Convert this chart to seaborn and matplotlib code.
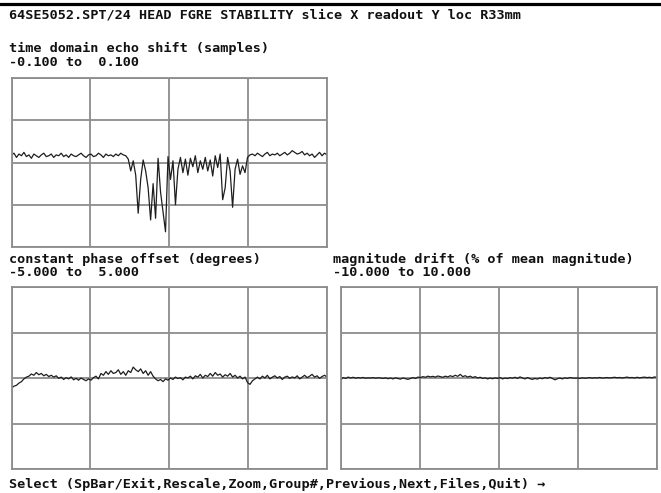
import numpy as np
import pandas as pd
import matplotlib
matplotlib.use("Agg")
import matplotlib.pyplot as plt
from matplotlib.lines import Line2D
import seaborn as sns

# ---------------- data ----------------
title = "64SE5052.SPT/24 HEAD FGRE STABILITY slice X readout Y loc R33mm"
label_echo = "time domain echo shift (samples)"
range_echo = "-0.100 to  0.100"
label_phase = "constant phase offset (degrees)"
range_phase = "-5.000 to  5.000"
label_mag = "magnitude drift (% of mean magnitude)"
range_mag = "-10.000 to 10.000"
footer = "Select (SpBar/Exit,Rescale,Zoom,Group#,Previous,Next,Files,Quit) \u2192"

echo_lim = (-0.1, 0.1)
phase_lim = (-5.0, 5.0)
mag_lim = (-10.0, 10.0)

echo_shift = [
    0.009, 0.011, 0.006, 0.010, 0.008, 0.012, 0.007, 0.009, 0.005, 0.010,
    0.008, 0.006, 0.009, 0.011, 0.007, 0.008, 0.010, 0.006, 0.009, 0.008,
    0.011, 0.007, 0.009, 0.006, 0.010, 0.008, 0.007, 0.009, 0.011, 0.008,
    0.006, 0.009, 0.010, 0.007, 0.008, 0.011, 0.009, 0.006, 0.010, 0.008,
    0.009, 0.007, 0.010, 0.008, 0.011, 0.009, 0.008, 0.004,
    -0.010, 0.002, -0.015, -0.060, -0.020, 0.003, -0.010, -0.030, -0.068, -0.025,
    -0.066, 0.005, -0.035, -0.058, -0.082, 0.007, -0.020, 0.002, -0.050, -0.008,
    0.006, -0.012, 0.004, -0.015, 0.005, -0.005, 0.008, -0.012, 0.002, -0.008,
    0.006, -0.010, 0.003, -0.016, 0.008, -0.006, 0.010, -0.044, -0.030, 0.006,
    -0.010, -0.053, -0.008, 0.004, -0.014, -0.004, -0.012, 0.006,
    0.009, 0.010, 0.008, 0.011, 0.009, 0.007, 0.010, 0.012, 0.008, 0.010,
    0.009, 0.011, 0.008, 0.010, 0.012, 0.009, 0.011, 0.014, 0.012, 0.010,
    0.011, 0.013, 0.009, 0.011, 0.008, 0.010, 0.006, 0.009, 0.012, 0.008,
    0.011, 0.009,
]

phase_offset = [
    -0.55, -0.45, -0.40, -0.28, -0.20, -0.05, 0.05, 0.10, 0.22, 0.15,
    0.30, 0.18, 0.25, 0.12, 0.20, 0.08, 0.15, 0.05, 0.12, -0.02,
    0.05, -0.08, 0.02, -0.05, 0.06, -0.10, -0.02, -0.12, 0.00, -0.08,
    -0.15, -0.05, -0.12, 0.02, 0.10, -0.05, 0.25, 0.15, 0.35, 0.20,
    0.40, 0.25, 0.30, 0.45, 0.20, 0.35, 0.15, 0.40, 0.30, 0.60,
    0.45, 0.35, 0.50, 0.25, 0.40, 0.15, 0.35, 0.10, -0.05, -0.15,
    -0.08, -0.20, -0.05, -0.12, 0.00, -0.08, 0.05, -0.03, 0.02, -0.10,
    0.05, 0.00, 0.10, -0.05, 0.12, 0.05, 0.20, 0.00, 0.15, 0.08,
    0.25, 0.10, 0.30, 0.15, 0.22, 0.05, 0.18, 0.10, 0.25, 0.05,
    0.15, 0.00, 0.10, -0.05, 0.05, -0.25, -0.35, -0.15, -0.05, 0.05,
    -0.05, 0.10, 0.00, 0.15, -0.05, 0.05, 0.12, 0.00, 0.08, -0.08,
    0.05, 0.10, -0.02, 0.06, 0.00, 0.12, -0.05, 0.05, 0.15, 0.02,
    0.10, 0.20, 0.05, 0.12, -0.02, 0.08, 0.15, 0.05,
]

magnitude_drift = [
    -0.20, 0.05, -0.05, 0.10, 0.00, 0.08, -0.02, 0.05, 0.00, 0.06,
    -0.03, 0.02, 0.00, 0.04, -0.02, 0.03, 0.00, -0.05, 0.02, -0.08,
    0.00, -0.10, 0.02, -0.06, -0.12, 0.00, -0.08, -0.15, -0.05, 0.05,
    -0.05, 0.10, 0.05, 0.15, 0.08, 0.20, 0.12, 0.18, 0.10, 0.22,
    0.15, 0.08, 0.20, 0.12, 0.25, 0.15, 0.30, 0.18, 0.40, 0.15,
    0.25, 0.10, 0.20, 0.05, 0.15, 0.00, 0.08, -0.05, 0.02, -0.10,
    0.00, -0.08, 0.02, -0.05, 0.05, -0.10, 0.00, -0.06, 0.04, -0.02,
    0.08, -0.05, 0.12, 0.00, -0.10, 0.05, -0.08, -0.15, -0.05, -0.12,
    0.00, -0.08, 0.05, -0.03, 0.08, -0.05, -0.20, -0.08, 0.00, -0.10,
    0.02, -0.05, 0.05, 0.00, -0.02, 0.00, -0.05, 0.02, -0.03, 0.00,
    0.05, -0.02, 0.03, 0.00, 0.06, -0.01, 0.02, 0.05, 0.00, 0.04,
    0.08, 0.02, 0.06, 0.00, 0.05, 0.10, 0.03, 0.06, 0.00, 0.08,
    0.02, 0.06, 0.10, 0.04, 0.08, 0.02, 0.12, 0.05,
]

# ---------------- figure ----------------
sns.set_style("white")
plt.rcParams["font.family"] = ["DejaVu Sans Mono", "DejaVu Sans"]

W, H = 661, 493
fig = plt.figure(figsize=(W / 100, H / 100), dpi=100)
fig.patch.set_facecolor("white")


def px_axes(x0, y0, x1, y1):
    return fig.add_axes([x0 / W, 1 - y1 / H, (x1 - x0) / W, (y1 - y0) / H])


GRID = "#8c8c8c"
LINE = "#1e1e1e"


def panel(ax, values, lim):
    df = pd.DataFrame({"sample": np.arange(len(values)), "value": values})
    sns.lineplot(data=df, x="sample", y="value", ax=ax, color=LINE,
                 linewidth=0.9, estimator=None)
    n = len(values) - 1
    ax.set_xlim(0, n)
    ax.set_ylim(*lim)
    ax.set_xticks(np.linspace(0, n, 5))
    ax.set_yticks(np.linspace(lim[0], lim[1], 5))
    ax.set_xticklabels([])
    ax.set_yticklabels([])
    ax.tick_params(length=0)
    ax.set_xlabel("")
    ax.set_ylabel("")
    ax.grid(True, color=GRID, linewidth=1.3)
    ax.set_axisbelow(True)
    for s in ax.spines.values():
        s.set_color(GRID)
        s.set_linewidth(1.3)


ax1 = px_axes(11.5, 78, 327, 247)
panel(ax1, echo_shift, echo_lim)
ax2 = px_axes(11.5, 287, 327, 469)
panel(ax2, phase_offset, phase_lim)
ax3 = px_axes(340.7, 287, 657, 469)
panel(ax3, magnitude_drift, mag_lim)

# top black rule
fig.add_artist(Line2D([0, 1], [1 - 3.5 / H, 1 - 3.5 / H], color="black",
                      linewidth=2.3, transform=fig.transFigure))

FS = 9.7
TXT = "#111111"


def ptext(x, y, s):
    fig.text(x / W, 1 - y / H, s, fontsize=FS, fontweight="bold", color=TXT,
             ha="left", va="center",
             family=["DejaVu Sans Mono", "DejaVu Sans"])


ptext(9, 15, title)
ptext(9, 48, label_echo)
ptext(9, 62, range_echo)
ptext(9, 259, label_phase)
ptext(9, 273, range_phase)
ptext(333, 259, label_mag)
ptext(333, 273, range_mag)
ptext(9, 484, footer)

fig.savefig("out.png", dpi=100, facecolor="white")
